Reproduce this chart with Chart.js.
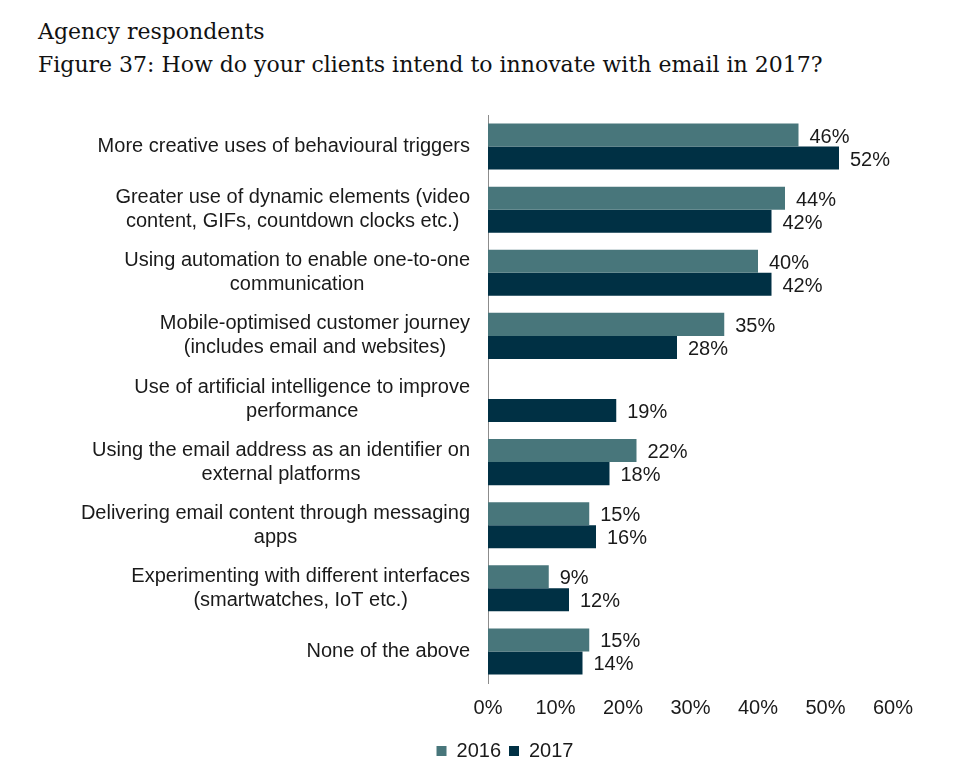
<!DOCTYPE html>
<html lang="en">
<head>
    <meta charset="UTF-8">
    <title>Figure 37</title>
    <script src="https://cdn.jsdelivr.net/npm/chart.js"></script>
    <style>
        body {
            margin: 0;
            background: #ffffff;
            width: 964px;
            height: 782px;
            overflow: hidden;
            position: relative;
        }

        .title {
            position: absolute;
            left: 38px;
            top: 15px;
            font-family: "DejaVu Serif", serif;
            font-size: 22px;
            line-height: 33px;
            color: #111;
            white-space: nowrap;
        }

        #chart {
            position: absolute;
            left: 0;
            top: 0;
        }
    </style>
</head>
<body>
    <div class="title">Agency respondents<br>Figure 37: How do your clients intend to innovate with email in 2017?</div>
    <canvas id="chart" width="964" height="782"></canvas>

    <script>
        const categories = [
            ['More creative uses of behavioural triggers'],
            ['Greater use of dynamic elements (video', 'content, GIFs, countdown clocks etc.)'],
            ['Using automation to enable one-to-one', 'communication'],
            ['Mobile-optimised customer journey', '(includes email and websites)'],
            ['Use of artificial intelligence to improve', 'performance'],
            ['Using the email address as an identifier on', 'external platforms'],
            ['Delivering email content through messaging', 'apps'],
            ['Experimenting with different interfaces', '(smartwatches, IoT etc.)'],
            ['None of the above']
        ];
        const values2016 = [46, 44, 40, 35, null, 22, 15, 9, 15];
        const values2017 = [52, 42, 42, 28, 19, 18, 16, 12, 14];
        const xTicks = [0, 10, 20, 30, 40, 50, 60];

        const textColor = '#1a1a1a';
        const fontFamily = '"Liberation Sans", Arial, sans-serif';
        const fontSize = 20;
        const labelFont = fontSize + 'px ' + fontFamily;

        // category labels: block right-aligned to the axis, lines centred inside it
        const categoryLabels = {
            id: 'categoryLabels',
            afterDraw(chart) {
                const ctx = chart.ctx;
                const y = chart.scales.y;
                const right = chart.chartArea.left - 18;
                const lineH = 24;
                ctx.save();
                ctx.font = labelFont;
                ctx.fillStyle = textColor;
                ctx.textAlign = 'center';
                ctx.textBaseline = 'middle';
                categories.forEach((lines, i) => {
                    const cy = y.getPixelForValue(i);
                    const w = Math.max(...lines.map(l => ctx.measureText(l).width));
                    const cx = right - w / 2;
                    const startY = cy - (lines.length - 1) * lineH / 2;
                    lines.forEach((l, j) => ctx.fillText(l, cx, startY + j * lineH));
                });
                ctx.restore();
            }
        };

        // percentage labels at the end of each bar
        const valueLabels = {
            id: 'valueLabels',
            afterDatasetsDraw(chart) {
                const ctx = chart.ctx;
                ctx.save();
                ctx.font = labelFont;
                ctx.fillStyle = textColor;
                ctx.textAlign = 'left';
                ctx.textBaseline = 'middle';
                chart.data.datasets.forEach((ds, di) => {
                    chart.getDatasetMeta(di).data.forEach((bar, i) => {
                        const v = ds.data[i];
                        if (v === null) return;
                        ctx.fillText(v + '%', bar.x + 11, bar.y + 2);
                    });
                });
                ctx.restore();
            }
        };

        new Chart(document.getElementById('chart'), {
            type: 'bar',
            data: {
                labels: categories,
                datasets: [
                    {
                        label: '2016',
                        data: values2016,
                        backgroundColor: '#48767b',
                        categoryPercentage: 0.73,
                        barPercentage: 1.0
                    },
                    {
                        label: '2017',
                        data: values2017,
                        backgroundColor: '#003044',
                        categoryPercentage: 0.73,
                        barPercentage: 1.0
                    }
                ]
            },
            options: {
                indexAxis: 'y',
                responsive: false,
                animation: false,
                layout: {
                    padding: { top: 115, left: 117, right: 71, bottom: 11 }
                },
                scales: {
                    x: {
                        min: 0,
                        max: 60,
                        afterBuildTicks(scale) {
                            scale.ticks = xTicks.map(v => ({ value: v }));
                        },
                        grid: { display: false, drawTicks: false },
                        border: { display: false },
                        ticks: {
                            padding: 13,
                            color: textColor,
                            font: { family: fontFamily, size: fontSize },
                            callback: v => v + '%'
                        }
                    },
                    y: {
                        afterFit(scale) {
                            scale.width = 371;
                        },
                        grid: { display: false, drawTicks: false },
                        border: { display: true, color: '#8c8c8c', width: 1 },
                        ticks: { display: false }
                    }
                },
                plugins: {
                    legend: {
                        position: 'bottom',
                        labels: {
                            boxWidth: 10,
                            boxHeight: 10,
                            padding: 8,
                            color: textColor,
                            font: { family: fontFamily, size: fontSize }
                        }
                    },
                    tooltip: { enabled: false }
                }
            },
            plugins: [categoryLabels, valueLabels]
        });
    </script>
</body>
</html>
